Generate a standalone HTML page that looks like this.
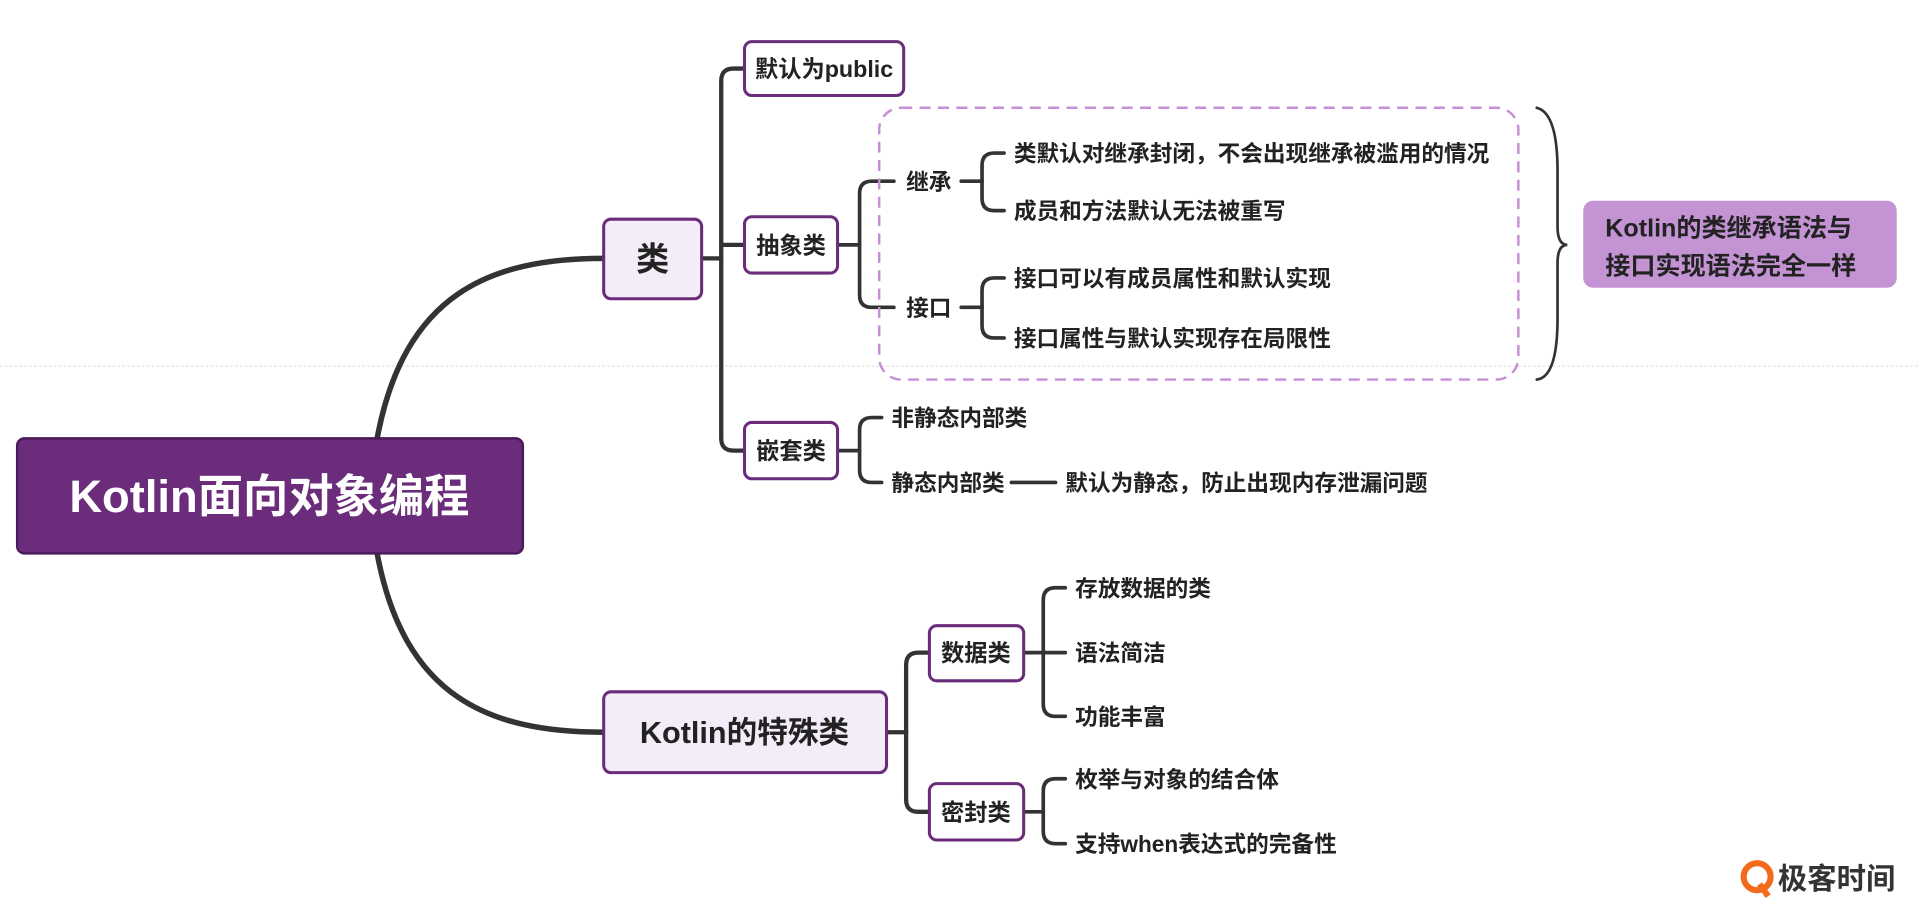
<!DOCTYPE html>
<html><head><meta charset="utf-8"><style>
html,body{margin:0;padding:0;background:#fff;width:1920px;height:911px;overflow:hidden}
svg{display:block}
text{font-family:"Liberation Sans","Noto Sans CJK SC",sans-serif;fill:#222;font-weight:bold}
</style></head><body>
<svg width="1920" height="911" viewBox="0 0 1568 744" xmlns="http://www.w3.org/2000/svg">
<line x1="0" y1="299" x2="1568" y2="299" stroke="#ddd" stroke-width="1" stroke-dasharray="2 2"/>
<g fill="none" stroke="#333" stroke-linecap="round">
<path d="M308 358 C 330 240, 400 211, 493 211" stroke-width="4.5"/>
<path d="M308 452 C 330 570, 400 598, 493 598" stroke-width="4.5"/>
<g stroke-width="3.5">
<path d="M573 211 H589"/>
<path d="M589 211 V66 Q589 56 599 56 H608"/>
<path d="M589 200 H608"/>
<path d="M589 211 V358 Q589 368 599 368 H608"/>
<path d="M724 598 H740"/>
<path d="M740 598 V543 Q740 533 750 533 H759"/>
<path d="M740 598 V653 Q740 663 750 663 H759"/>
</g>
<g stroke-width="3">
<path d="M684 200 H702"/>
<path d="M702 200 V158 Q702 148 712 148 H730"/>
<path d="M702 200 V241 Q702 251 712 251 H730"/>
<path d="M785 148 H802"/>
<path d="M802 148 V135 Q802 125 812 125 H820"/>
<path d="M802 148 V162 Q802 172 812 172 H820"/>
<path d="M785 251 H802"/>
<path d="M802 251 V237 Q802 227 812 227 H820"/>
<path d="M802 251 V266 Q802 276 812 276 H820"/>
<path d="M684 368 H702"/>
<path d="M702 368 V351 Q702 341 712 341 H720"/>
<path d="M702 368 V384 Q702 394 712 394 H720"/>
<path d="M826 394 H862"/>
<path d="M836 533 H852"/>
<path d="M852 533 V490 Q852 480 862 480 H870"/>
<path d="M852 533 H870"/>
<path d="M852 533 V575 Q852 585 862 585 H870"/>
<path d="M836 663 H852"/>
<path d="M852 663 V646 Q852 636 862 636 H870"/>
<path d="M852 663 V679 Q852 689 862 689 H870"/>
</g>
<path d="M1255 88 Q1272 92 1272 140 V185 Q1272 200 1280 200 Q1272 200 1272 215 V260 Q1272 308 1255 310" stroke-width="2.2"/>
</g>
<rect x="718" y="88" width="522" height="222" rx="18" fill="none" stroke="#c68fd6" stroke-width="2" stroke-dasharray="9 6"/>
<rect x="14" y="358" width="413" height="94" rx="6" fill="#6b2d7b" stroke="#4a1a5a" stroke-width="2"/>
<text x="220" y="418" font-size="37" text-anchor="middle" style="fill:#fff">Kotlin面向对象编程</text>
<g fill="#f4ecf8" stroke="#6b2d7b" stroke-width="2.5">
<rect x="493" y="179" width="80" height="65" rx="6"/>
<rect x="493" y="565" width="231" height="66" rx="6"/>
</g>
<g fill="#fff" stroke="#6b2d7b" stroke-width="2.5">
<rect x="608" y="34" width="130" height="44" rx="6"/>
<rect x="608" y="177" width="76" height="46" rx="6"/>
<rect x="608" y="345" width="76" height="46" rx="6"/>
<rect x="759" y="511" width="77" height="45" rx="6"/>
<rect x="759" y="640" width="77" height="46" rx="6"/>
</g>
<text x="533" y="221" font-size="27" text-anchor="middle">类</text>
<text x="608" y="607" font-size="25" text-anchor="middle">Kotlin的特殊类</text>
<g font-size="19">
<text x="673" y="63" text-anchor="middle">默认为public</text>
<text x="646" y="207" text-anchor="middle">抽象类</text>
<text x="646" y="375" text-anchor="middle">嵌套类</text>
<text x="797" y="540" text-anchor="middle">数据类</text>
<text x="797" y="670" text-anchor="middle">密封类</text>
</g>
<g font-size="18.5">
<text x="740" y="155">继承</text>
<text x="740" y="258">接口</text>
<text x="828" y="132">类默认对继承封闭，不会出现继承被滥用的情况</text>
<text x="828" y="179">成员和方法默认无法被重写</text>
<text x="828" y="234">接口可以有成员属性和默认实现</text>
<text x="828" y="283">接口属性与默认实现存在局限性</text>
<text x="728" y="348">非静态内部类</text>
<text x="728" y="401">静态内部类</text>
<text x="870" y="401">默认为静态，防止出现内存泄漏问题</text>
<text x="878" y="487">存放数据的类</text>
<text x="878" y="540">语法简洁</text>
<text x="878" y="592">功能丰富</text>
<text x="878" y="643">枚举与对象的结合体</text>
<text x="878" y="696">支持when表达式的完备性</text>
</g>
<rect x="1293" y="164" width="256" height="71" rx="8" fill="#c393d3"/>
<g font-size="20.5">
<text x="1311" y="193">Kotlin的类继承语法与</text>
<text x="1311" y="224">接口实现语法完全一样</text>
</g>
<circle cx="1435" cy="716" r="11" fill="none" stroke="#f26a1b" stroke-width="5"/>
<path d="M1437 722 L1444 732" stroke="#f26a1b" stroke-width="5"/>
<text x="1452" y="726" font-size="24" style="fill:#333">极客时间</text>
</svg>
</body></html>
